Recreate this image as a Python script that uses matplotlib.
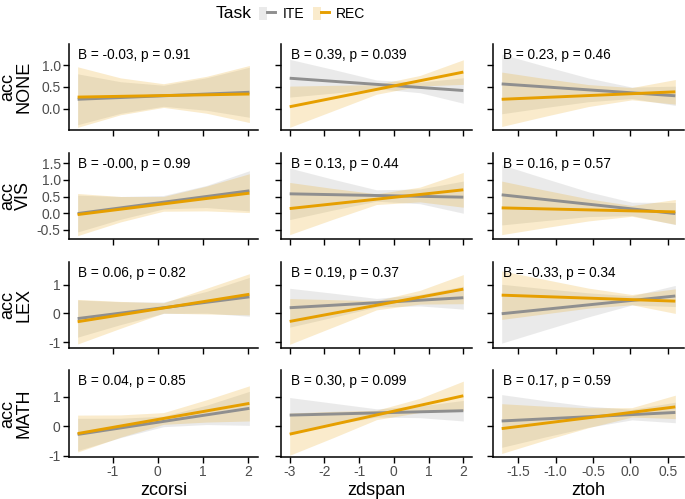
import matplotlib
matplotlib.use("Agg")
import matplotlib.pyplot as plt
import numpy as np
from matplotlib.patches import Patch
from matplotlib.lines import Line2D
from matplotlib.legend_handler import HandlerTuple

plt.rcParams['font.family'] = ['Liberation Sans', 'DejaVu Sans']
plt.rcParams['axes.unicode_minus'] = False

# facets
rows = ['NONE', 'VIS', 'LEX', 'MATH']
predictors = ['zcorsi', 'zdspan', 'ztoh']

# range of each predictor (fit drawn over this range)
x_min = [-1.77, -3.0, -1.72]
x_max = [2.02, 2.0, 0.6]

# stats shown in each panel
stats = [
    ['B = -0.03, p = 0.91', 'B = 0.39, p = 0.039', 'B = 0.23, p = 0.46'],
    ['B = -0.00, p = 0.99', 'B = 0.13, p = 0.44', 'B = 0.16, p = 0.57'],
    ['B = 0.06, p = 0.82', 'B = 0.19, p = 0.37', 'B = -0.33, p = 0.34'],
    ['B = 0.04, p = 0.85', 'B = 0.30, p = 0.099', 'B = 0.17, p = 0.59'],
]

# fitted value at left / right end of the range
ite_start = [[0.22, 0.70, 0.57], [-0.01, 0.58, 0.55], [-0.18, 0.20, -0.01], [-0.28, 0.38, 0.18]]
ite_end = [[0.38, 0.42, 0.30], [0.67, 0.48, -0.01], [0.58, 0.55, 0.61], [0.61, 0.53, 0.47]]
rec_start = [[0.27, 0.05, 0.22], [-0.04, 0.14, 0.16], [-0.29, -0.28, 0.64], [-0.25, -0.27, -0.08]]
rec_end = [[0.34, 0.84, 0.39], [0.60, 0.70, 0.04], [0.67, 0.85, 0.43], [0.78, 1.04, 0.66]]

# 95% CI half-width at 5 evenly spaced points across the range
ite_ci = [
    [[0.58, 0.36, 0.24, 0.37, 0.57], [0.43, 0.27, 0.10, 0.12, 0.29], [0.68, 0.47, 0.27, 0.13, 0.22]],
    [[0.55, 0.34, 0.20, 0.33, 0.60], [0.77, 0.46, 0.17, 0.22, 0.48], [0.90, 0.63, 0.37, 0.20, 0.33]],
    [[0.65, 0.40, 0.20, 0.38, 0.68], [0.68, 0.42, 0.15, 0.20, 0.40], [1.03, 0.72, 0.42, 0.16, 0.37]],
    [[0.55, 0.33, 0.18, 0.33, 0.58], [0.60, 0.37, 0.14, 0.20, 0.35], [0.90, 0.62, 0.36, 0.18, 0.35]],
]
rec_ci = [
    [[0.69, 0.42, 0.27, 0.42, 0.65], [0.47, 0.29, 0.11, 0.12, 0.28], [0.62, 0.43, 0.25, 0.14, 0.28]],
    [[0.63, 0.38, 0.22, 0.37, 0.58], [0.78, 0.46, 0.16, 0.22, 0.52], [0.80, 0.56, 0.33, 0.16, 0.37]],
    [[0.78, 0.47, 0.18, 0.45, 0.72], [0.80, 0.48, 0.16, 0.24, 0.51], [0.85, 0.60, 0.35, 0.18, 0.43]],
    [[0.63, 0.38, 0.20, 0.38, 0.60], [0.72, 0.45, 0.16, 0.24, 0.50], [0.85, 0.58, 0.34, 0.16, 0.40]],
]

# axis settings
row_ylim = [(-0.48, 1.48), (-0.77, 1.8), (-1.21, 1.8), (-1.05, 1.92)]
row_yticks = [[0, 0.5, 1.0], [-0.5, 0, 0.5, 1.0, 1.5], [-1, 0, 1], [-1, 0, 1]]
row_yfmt = ['{:.1f}', '{:.1f}', '{:.0f}', '{:.0f}']
col_xlim = [(-1.96, 2.21), (-3.25, 2.25), (-1.836, 0.716)]
col_xticks = [[-1, 0, 1, 2], [-3, -2, -1, 0, 1, 2], [-1.5, -1.0, -0.5, 0.0, 0.5]]
col_xfmt = ['{:.0f}', '{:.0f}', '{:.1f}']

GRAY = '#999999'
GRAY_LINE = '#8f8f8f'
ORANGE = '#E69F00'

W, H = 685, 499
col_px = [(69, 258), (281, 472), (493, 684)]
row_px = [(44, 130), (153, 239), (262, 348), (370, 457)]

fig = plt.figure(figsize=(W / 100, H / 100), dpi=100)

for i in range(4):
    for j in range(3):
        l, r = col_px[j]
        t, b = row_px[i]
        ax = fig.add_axes([l / W, 1 - b / H, (r - l) / W, (b - t) / H])
        x5 = np.linspace(x_min[j], x_max[j], 5)
        series = [(ite_start, ite_end, ite_ci, GRAY, GRAY_LINE),
                  (rec_start, rec_end, rec_ci, ORANGE, ORANGE)]
        for start, end, ci, fill, lc in series:
            fit = np.interp(x5, [x_min[j], x_max[j]], [start[i][j], end[i][j]])
            hw = np.array(ci[i][j])
            ax.fill_between(x5, fit - hw, fit + hw, color=fill, alpha=0.2, lw=0)
        for start, end, ci, fill, lc in series:
            ax.plot([x_min[j], x_max[j]], [start[i][j], end[i][j]], color=lc, lw=2.1,
                    solid_capstyle='butt')

        ax.set_xlim(col_xlim[j])
        ax.set_ylim(row_ylim[i])
        ax.set_xticks(col_xticks[j])
        ax.set_yticks(row_yticks[i])
        if j == 0:
            ax.set_yticklabels([row_yfmt[i].format(v) for v in row_yticks[i]])
        else:
            ax.set_yticklabels([])
        if i == 3:
            ax.set_xticklabels([col_xfmt[j].format(v) for v in col_xticks[j]])
            ax.set_xlabel(predictors[j], fontsize=13, labelpad=2)
        else:
            ax.set_xticklabels([])
        for s in ['top', 'right']:
            ax.spines[s].set_visible(False)
        for s in ['left', 'bottom']:
            ax.spines[s].set_linewidth(1.1)
        ax.tick_params(length=4, width=1.0, colors='black', labelcolor='#4d4d4d',
                       labelsize=10, pad=2)
        ax.text(0.05, 0.95, stats[i][j], transform=ax.transAxes, ha='left', va='top',
                fontsize=9.8, color='black')

    # row strip label
    t, b = row_px[i]
    fig.text(16 / W, 1 - (t + b) / 2 / H, 'acc\n' + rows[i], rotation=90, ha='center',
             va='center', fontsize=13, multialignment='center', linespacing=0.9)

# legend
fig.text(252 / W, 1 - 14 / H, 'Task', ha='right', va='center', fontsize=12.5)
handles = [(Patch(facecolor=GRAY, alpha=0.2, lw=0), Line2D([], [], color=GRAY_LINE, lw=2.1)),
           (Patch(facecolor=ORANGE, alpha=0.2, lw=0), Line2D([], [], color=ORANGE, lw=2.1))]
fig.legend(handles, ['ITE', 'REC'], loc='center left', bbox_to_anchor=(259 / W, 1 - 14 / H),
           ncol=2, frameon=False, fontsize=10, handlelength=1.15, handleheight=1.15,
           handletextpad=0.55, columnspacing=0.6, borderpad=0, borderaxespad=0,
           handler_map={tuple: HandlerTuple(ndivide=None)})

plt.savefig('out.png', dpi=100)
